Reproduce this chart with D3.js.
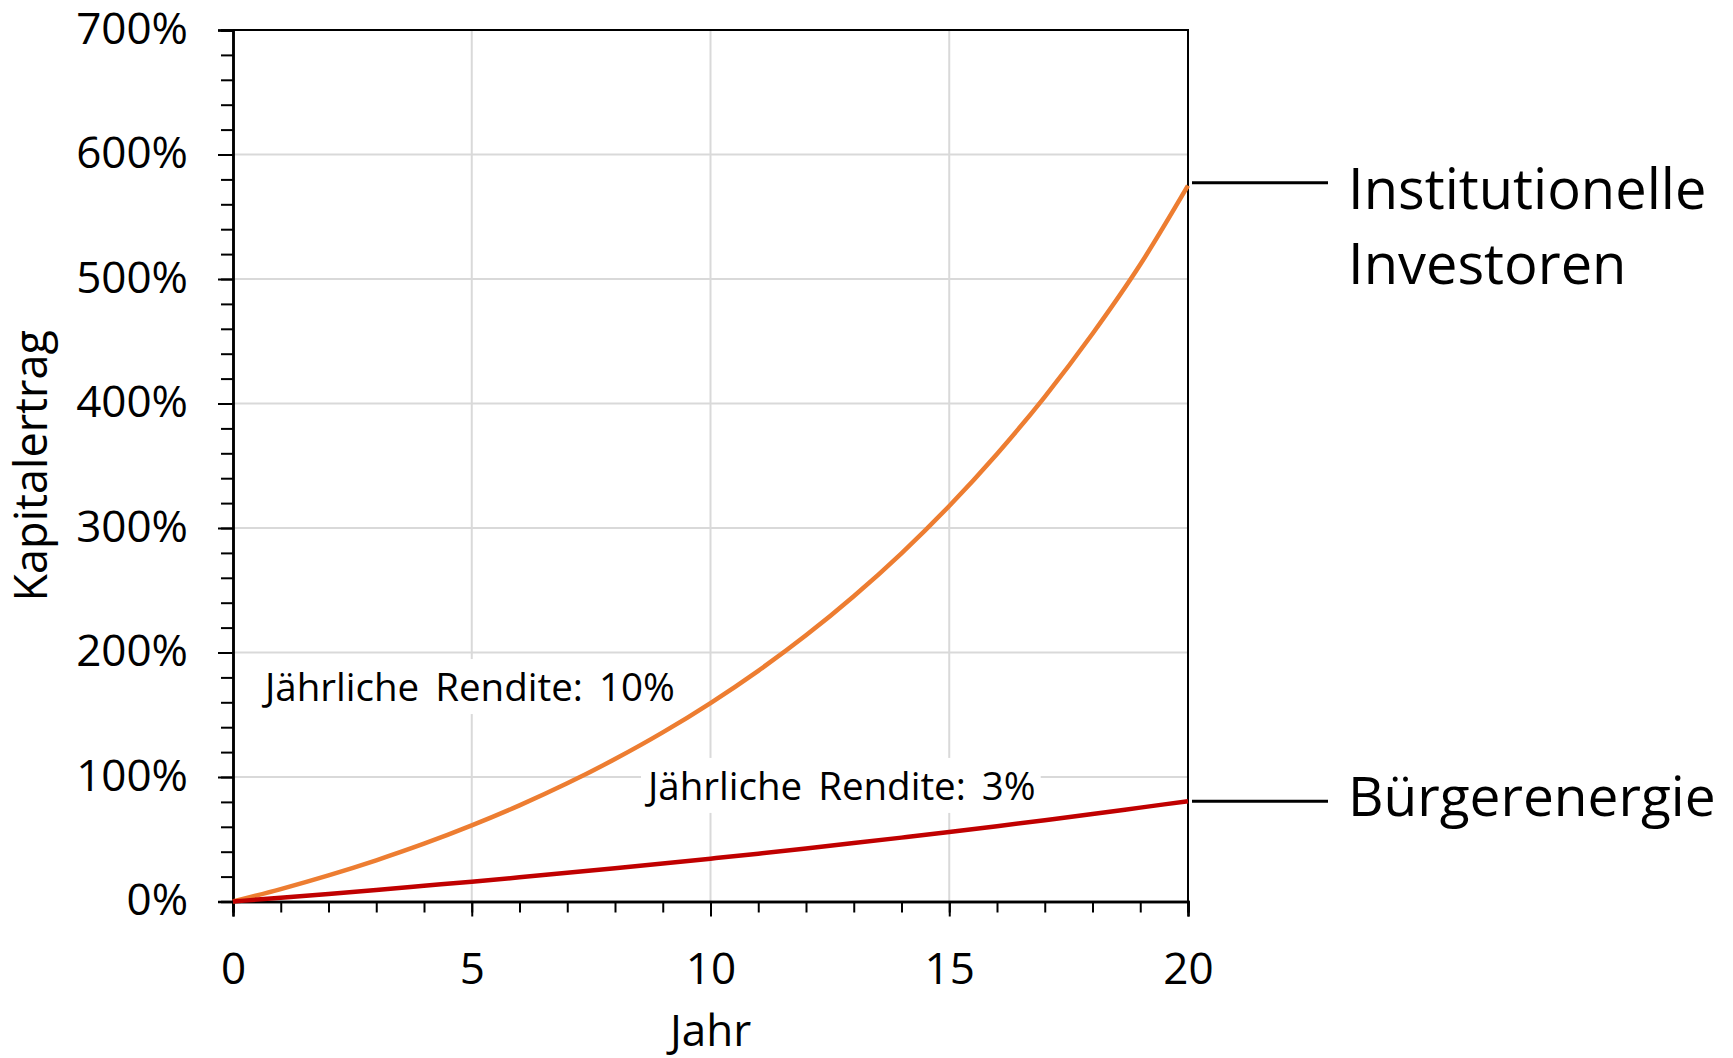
<!DOCTYPE html>
<html><head><meta charset="utf-8">
<script src="https://cdn.jsdelivr.net/npm/d3@7"></script>
<style>body{margin:0;background:#fff}svg{display:block}text{font-family:"Open Sans",sans-serif;fill:#000}</style>
</head><body>
<svg id="c" width="1733" height="1058"></svg>
<script>
const years = [0,1,2,3,4,5,6,7,8,9,10,11,12,13,14,15,16,17,18,19,20];
const institutionelle = [0,10,21,33.1,46.4,61.1,77.2,94.9,114.4,135.8,159.4,185.3,213.8,245.2,279.7,317.7,359.5,405.4,456,511.6,575];
const buergerenergie = [0,3,6.1,9.3,12.6,15.9,19.4,23,26.7,30.5,34.4,38.4,42.6,46.9,51.3,55.8,60.5,65.3,70.2,75.4,80.6];
const xTicks = [0,5,10,15,20];
const yTicks = [0,100,200,300,400,500,600,700];
const seriesNames = ["Institutionelle\nInvestoren","Bürgerenergie"];
const annotations = ["Jährliche Rendite: 10%","Jährliche Rendite: 3%"];

const svg = d3.select("#c");
const L=233,R=1188,T=30,B=901.5;
const x = d3.scaleLinear([0,20],[L,R]);
const y = d3.scaleLinear([0,700],[B,T]);

// gridlines
svg.append("g").selectAll("line").data(yTicks.slice(1)).join("line")
  .attr("x1",L).attr("x2",R).attr("y1",d=>y(d)).attr("y2",d=>y(d))
  .attr("stroke","#d9d9d9").attr("stroke-width",2);
svg.append("g").selectAll("line").data(xTicks.slice(1,-1)).join("line")
  .attr("y1",T).attr("y2",B).attr("x1",d=>x(d)).attr("x2",d=>x(d))
  .attr("stroke","#d9d9d9").attr("stroke-width",2);

// frame top/right
svg.append("line").attr("x1",L).attr("x2",R+1).attr("y1",T).attr("y2",T).attr("stroke","#000").attr("stroke-width",2);
svg.append("line").attr("x1",R).attr("x2",R).attr("y1",T).attr("y2",B).attr("stroke","#000").attr("stroke-width",2);

// axes
const yMinor = d3.range(0,701,20);
const gy = svg.append("g").attr("transform",`translate(${L},0)`);
gy.call(d3.axisLeft(y).tickValues(yMinor).tickSize(12).tickFormat(""));
gy.selectAll(".tick line").attr("stroke-width",2);
const gy2 = svg.append("g").attr("transform",`translate(${L},0)`)
  .call(d3.axisLeft(y).tickValues(yTicks).tickSize(15).tickPadding(30).tickFormat(d=>d+"%"));
gy2.selectAll(".tick line").attr("stroke-width",2);
gy2.selectAll("text").style("font-size","44px").attr("font-family","Open Sans").attr("fill","#000").attr("dy","0.3em");

const xMinor = d3.range(0,21,1);
const gx = svg.append("g").attr("transform",`translate(0,${B})`);
gx.call(d3.axisBottom(x).tickValues(xMinor).tickSize(11).tickFormat(""));
gx.selectAll(".tick line").attr("stroke-width",2);
const gx2 = svg.append("g").attr("transform",`translate(0,${B})`)
  .call(d3.axisBottom(x).tickValues(xTicks).tickSize(15).tickPadding(36).tickFormat(d=>d));
gx2.selectAll(".tick line").attr("stroke-width",2);
gx2.selectAll("text").style("font-size","44px").attr("font-family","Open Sans").attr("fill","#000");
svg.selectAll(".domain").attr("stroke-width",2.5);

// annotation boxes + texts
const ann = [
  {t:annotations[0], ax:0.67, ay:161},
  {t:annotations[1], ax:8.69, ay:81.6}
];
ann.forEach(a=>{
  const g = svg.append("g");
  const r = g.append("rect").attr("fill","#fff");
  const t = g.append("text").attr("x",x(a.ax)).attr("y",y(a.ay)).text(a.t)
    .style("font-size","38.5px").style("word-spacing","6px");
  const bb = t.node().getBBox();
  r.attr("x",bb.x-3).attr("width",bb.width+8).attr("y",y(a.ay)-42).attr("height",55);
});

// lines
const line = d3.line().x((d,i)=>x(years[i])).y(d=>y(d)).curve(d3.curveMonotoneX);
svg.append("path").attr("d",line(institutionelle)).attr("fill","none").attr("stroke","#ED7D31").attr("stroke-width",4.5);
svg.append("path").attr("d",line(buergerenergie)).attr("fill","none").attr("stroke","#C00000").attr("stroke-width",4.5);

// connectors + labels
const ends = [institutionelle[20], buergerenergie[20]];
ends.forEach((v,i)=>{
  const yy = y(v) - (i===0?3:0);
  svg.append("line").attr("x1",R+4).attr("x2",1328).attr("y1",yy).attr("y2",yy).attr("stroke","#000").attr("stroke-width",3);
});
const lab1 = svg.append("text").attr("x",1348).attr("y",y(ends[0])+23).style("font-size","56px");
seriesNames[0].split("\n").forEach((s,k)=>lab1.append("tspan").attr("x",1348).attr("dy",k?75:0).text(s));
svg.append("text").attr("x",1348).attr("y",y(ends[1])+15).style("font-size","55px").text(seriesNames[1]);

// axis titles
svg.append("text").attr("x",x(10)).attr("y",1046).attr("text-anchor","middle").style("font-size","44px").text("Jahr");
svg.append("text").attr("transform",`translate(47,${(T+B)/2}) rotate(-90)`).attr("text-anchor","middle").style("font-size","45px").text("Kapitalertrag");
</script>
</body></html>
